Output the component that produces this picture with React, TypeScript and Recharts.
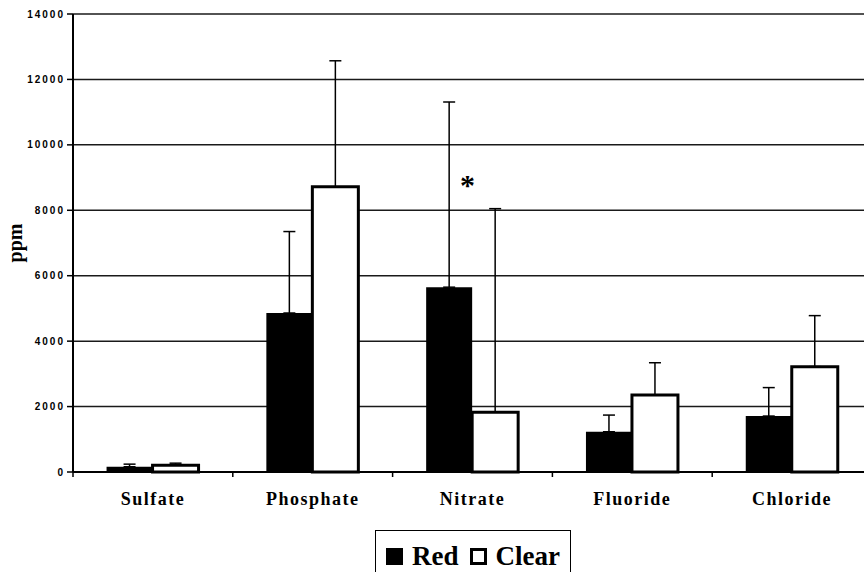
import { Bar, BarChart, CartesianGrid, ErrorBar, Legend, ReferenceDot, XAxis, YAxis } from 'recharts'

const categories = ['Sulfate', 'Phosphate', 'Nitrate', 'Fluoride', 'Chloride']
const seriesNames = ['Red', 'Clear']
const redValues = [160, 4860, 5650, 1230, 1710]
const redError = [80, 2490, 5660, 510, 870]
const clearValues = [210, 8720, 1830, 2350, 3220]
const clearError = [60, 3850, 6220, 990, 1560]
const yTicks = [0, 2000, 4000, 6000, 8000, 10000, 12000, 14000]
const markCategory = 'Nitrate'
const markValue = 8800

const data = categories.map((name, i) => ({
  name,
  Red: redValues[i],
  Clear: clearValues[i],
  redErr: [0, redError[i]],
  clearErr: [0, clearError[i]],
}))

const serif = 'Liberation Serif'
const swatch: Record<string, string> = { Red: '#000', Clear: '#fff' }

function CategoryTick(props: any) {
  const { x, y, payload } = props
  const half = payload?.offset ?? 80
  return (
    <g>
      <line x1={x - half} x2={x - half} y1={y - 7} y2={y - 2} stroke="#000" strokeWidth={1.5} />
      <text
        x={x}
        y={y + 26}
        textAnchor="middle"
        style={{ fontFamily: serif, fontWeight: 700, fontSize: 18, letterSpacing: 1.5 }}
        fill="#000"
      >
        {payload.value}
      </text>
    </g>
  )
}

function LegendBox(props: any) {
  const items = [...(props.payload || [])].sort(
    (a: any, b: any) => seriesNames.indexOf(a.value) - seriesNames.indexOf(b.value),
  )
  return (
    <div
      style={{
        border: '1.5px solid #000',
        background: '#fff',
        height: 60,
        boxSizing: 'border-box',
        display: 'flex',
        alignItems: 'flex-start',
        paddingLeft: 10,
        paddingTop: 12,
        fontFamily: serif,
        fontWeight: 700,
        fontSize: 27,
        lineHeight: '27px',
      }}
    >
      {items.map((item: any) => (
        <div key={item.value} style={{ display: 'flex', alignItems: 'center', marginRight: 11 }}>
          <span
            style={{
              display: 'inline-block',
              width: 17,
              height: 17,
              boxSizing: 'border-box',
              border: '3px solid #000',
              background: swatch[item.value],
              marginRight: 9,
            }}
          />
          <span>{item.value}</span>
        </div>
      ))}
    </div>
  )
}

export default function App() {
  return (
    <div
      style={{
        position: 'fixed',
        top: 0,
        left: 0,
        width: 864,
        height: 572,
        overflow: 'hidden',
        background: '#fff',
      }}
    >
      <BarChart
        width={880}
        height={572}
        data={data}
        margin={{ top: 14, right: 8, left: 0, bottom: 60 }}
        barCategoryGap="21%"
        barGap={0}
      >
        <CartesianGrid vertical={false} stroke="#1a1a1a" strokeWidth={1.5} />
        <XAxis
          dataKey="name"
          height={40}
          tickLine={false}
          tickSize={5}
          tickMargin={2}
          axisLine={{ stroke: '#000', strokeWidth: 2 }}
          tick={<CategoryTick />}
          interval={0}
        />
        <YAxis
          width={73}
          domain={[0, 14000]}
          ticks={yTicks}
          interval={0}
          tickSize={6}
          tickMargin={2}
          axisLine={{ stroke: '#000', strokeWidth: 2 }}
          tickLine={{ stroke: '#000', strokeWidth: 1.5 }}
          tick={{
            fontSize: 10,
            fontWeight: 700,
            fill: '#000',
            fontFamily: 'Liberation Sans',
            letterSpacing: 2,
          }}
          label={{
            content: (p: any) => {
              const vb = p.viewBox || { x: 0, y: 14, height: 458 }
              const cx = vb.x + 15
              const cy = vb.y + vb.height / 2
              return (
                <text
                  x={cx}
                  y={cy}
                  transform={`rotate(-90 ${cx} ${cy})`}
                  textAnchor="middle"
                  dominantBaseline="central"
                  style={{ fontFamily: serif, fontWeight: 700, fontSize: 20 }}
                  fill="#000"
                >
                  ppm
                </text>
              )
            },
          }}
        />
        <Legend
          layout="horizontal"
          verticalAlign="middle"
          align="center"
          wrapperStyle={{ top: 530, left: 375, width: 196, height: 60 }}
          content={<LegendBox />}
        />
        <Bar dataKey="Red" fill="#000" isAnimationActive={false}>
          <ErrorBar dataKey="redErr" width={6} stroke="#000" strokeWidth={1.5} direction="y" isAnimationActive={false} />
        </Bar>
        <Bar dataKey="Clear" fill="#fff" stroke="#000" strokeWidth={3} isAnimationActive={false}>
          <ErrorBar dataKey="clearErr" width={6} stroke="#000" strokeWidth={1.5} direction="y" isAnimationActive={false} />
        </Bar>
        <ReferenceDot
          x={markCategory}
          y={markValue}
          r={0}
          fill="none"
          stroke="none"
          label={{ value: '*', position: 'center', fontSize: 30, fontWeight: 700, fontFamily: serif, fill: '#000', dx: -5 }}
        />
      </BarChart>
    </div>
  )
}
